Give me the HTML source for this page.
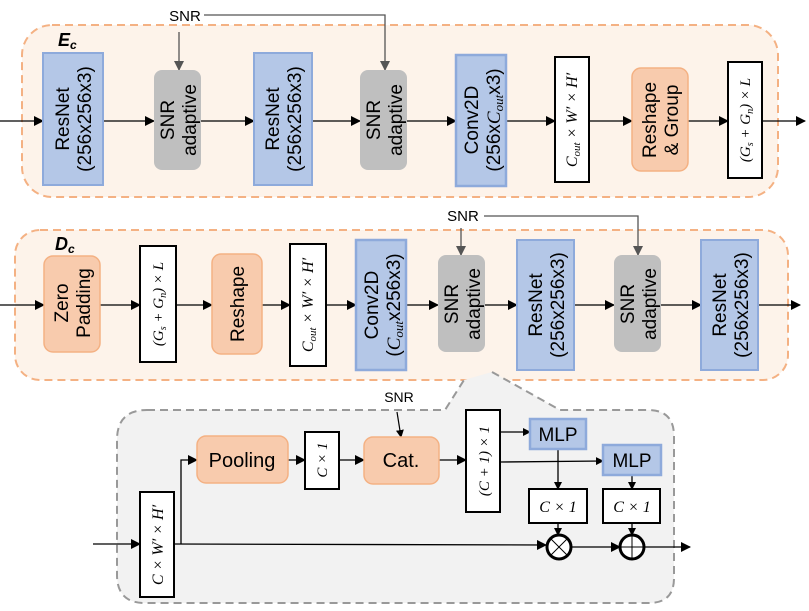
<!DOCTYPE html>
<html><head><meta charset="utf-8"><style>
html,body{margin:0;padding:0;background:#fff;}
svg{display:block;}
text{font-family:"Liberation Sans",sans-serif;}
.m{font-family:"Liberation Serif",serif;font-style:italic;}
</style></head><body>
<svg width="809" height="611" viewBox="0 0 809 611" xmlns="http://www.w3.org/2000/svg">
<defs>
<marker id="a" markerWidth="10" markerHeight="10" refX="9" refY="5" orient="auto" markerUnits="userSpaceOnUse"><path d="M0,0 L10,5 L0,10 z" fill="#000"/></marker>
<marker id="g" markerWidth="10" markerHeight="10" refX="9" refY="5" orient="auto" markerUnits="userSpaceOnUse"><path d="M0,0 L10,5 L0,10 z" fill="#555"/></marker>
<marker id="s" markerWidth="8" markerHeight="8" refX="7" refY="4" orient="auto" markerUnits="userSpaceOnUse"><path d="M0,0 L8,4 L0,8 z" fill="#000"/></marker>
</defs>

<!-- Top panel -->
<rect x="22" y="25" width="756" height="172" rx="30" fill="#fdf3ea" stroke="#f4b183" stroke-width="2" stroke-dasharray="8,5"/>
<text x="58" y="46" font-family="Liberation Serif" font-weight="bold" font-style="italic" font-size="18">E<tspan font-size="12" dy="3">c</tspan></text>

<g stroke="#000" stroke-width="1.3" marker-end="url(#a)">
<line x1="0" y1="121" x2="43" y2="121"/>
<line x1="103" y1="121" x2="154" y2="121"/>
<line x1="201" y1="121" x2="254" y2="121"/>
<line x1="312" y1="121" x2="360" y2="121"/>
<line x1="407" y1="121" x2="456" y2="121"/>
<line x1="506" y1="121" x2="555" y2="121"/>
<line x1="589" y1="121" x2="632" y2="121"/>
<line x1="688" y1="121" x2="728" y2="121"/>
<line x1="762" y1="121" x2="805" y2="121"/>
</g>
<text x="185" y="21" font-size="15" text-anchor="middle">SNR</text>
<line x1="179" y1="32" x2="179" y2="70" stroke="#555" stroke-width="1.3" marker-end="url(#g)"/>
<polyline points="204,15 385,15 385,70" fill="none" stroke="#555" stroke-width="1.3" marker-end="url(#g)"/>

<rect x="43" y="53" width="60" height="132" fill="#b4c7e7" stroke="#8eaadb" stroke-width="2"/>
<text transform="translate(73,119) rotate(-90)" font-size="19" text-anchor="middle"><tspan x="0" dy="-4">ResNet</tspan><tspan x="0" dy="22">(256x256x3)</tspan></text>
<rect x="154" y="70" width="47" height="100" rx="8" fill="#bfbfbf"/>
<text transform="translate(178,120) rotate(-90)" font-size="19" text-anchor="middle"><tspan x="0" dy="-4">SNR</tspan><tspan x="0" dy="22">adaptive</tspan></text>
<rect x="254" y="53" width="58" height="132" fill="#b4c7e7" stroke="#8eaadb" stroke-width="2"/>
<text transform="translate(283,119) rotate(-90)" font-size="19" text-anchor="middle"><tspan x="0" dy="-4">ResNet</tspan><tspan x="0" dy="22">(256x256x3)</tspan></text>
<rect x="360" y="70" width="47" height="100" rx="8" fill="#bfbfbf"/>
<text transform="translate(384,120) rotate(-90)" font-size="19" text-anchor="middle"><tspan x="0" dy="-4">SNR</tspan><tspan x="0" dy="22">adaptive</tspan></text>
<rect x="456" y="55" width="50" height="131" fill="#b4c7e7" stroke="#8eaadb" stroke-width="2.5"/>
<text transform="translate(482,120) rotate(-90)" font-size="19" text-anchor="middle"><tspan x="0" dy="-4">Conv2D</tspan><tspan x="0" dy="22">(256x<tspan class="m">C</tspan><tspan class="m" font-size="13" dy="3">out</tspan><tspan dy="-3">x3)</tspan></tspan></text>
<rect x="555" y="57" width="34" height="125" fill="#fff" stroke="#000" stroke-width="2"/>
<text transform="translate(577,120) rotate(-90)" font-size="16" text-anchor="middle" class="m">C<tspan font-size="11" dy="3">out</tspan><tspan dy="-3"> × W′ × H′</tspan></text>
<rect x="632" y="68" width="56" height="103" rx="9" fill="#f8cbad" stroke="#f4b183" stroke-width="1.5"/>
<text transform="translate(660,120) rotate(-90)" font-size="19" text-anchor="middle"><tspan x="0" dy="-4">Reshape</tspan><tspan x="0" dy="22">&amp; Group</tspan></text>
<rect x="728" y="62" width="34" height="116" fill="#fff" stroke="#000" stroke-width="2"/>
<text transform="translate(750,120) rotate(-90)" font-size="15" text-anchor="middle" class="m">(G<tspan font-size="10" dy="3">s</tspan><tspan dy="-3"> + G</tspan><tspan font-size="10" dy="3">n</tspan><tspan dy="-3">) × L</tspan></text>

<!-- Middle panel -->
<rect x="15" y="230" width="773" height="150" rx="25" fill="#fdf3ea" stroke="#f4b183" stroke-width="2" stroke-dasharray="8,5"/>
<text x="55" y="250" font-family="Liberation Serif" font-weight="bold" font-style="italic" font-size="18">D<tspan font-size="12" dy="3">c</tspan></text>
<g stroke="#000" stroke-width="1.3" marker-end="url(#a)">
<line x1="0" y1="305" x2="44" y2="305"/>
<line x1="100" y1="305" x2="140" y2="305"/>
<line x1="176" y1="305" x2="212" y2="305"/>
<line x1="262" y1="305" x2="290" y2="305"/>
<line x1="326" y1="305" x2="356" y2="305"/>
<line x1="406" y1="305" x2="438" y2="305"/>
<line x1="485" y1="305" x2="517" y2="305"/>
<line x1="574" y1="305" x2="614" y2="305"/>
<line x1="661" y1="305" x2="701" y2="305"/>
<line x1="758" y1="305" x2="800" y2="305"/>
</g>
<text x="463" y="221" font-size="15" text-anchor="middle">SNR</text>
<line x1="461" y1="228" x2="461" y2="255" stroke="#555" stroke-width="1.3" marker-end="url(#g)"/>
<polyline points="484,216 638,216 638,255" fill="none" stroke="#555" stroke-width="1.3" marker-end="url(#g)"/>

<rect x="44" y="256" width="56" height="96" rx="9" fill="#f8cbad" stroke="#f4b183" stroke-width="1.5"/>
<text transform="translate(72,303) rotate(-90)" font-size="19" text-anchor="middle"><tspan x="0" dy="-4">Zero</tspan><tspan x="0" dy="22">Padding</tspan></text>
<rect x="140" y="246" width="36" height="116" fill="#fff" stroke="#000" stroke-width="2"/>
<text transform="translate(163,304) rotate(-90)" font-size="15" text-anchor="middle" class="m">(G<tspan font-size="10" dy="3">s</tspan><tspan dy="-3"> + G</tspan><tspan font-size="10" dy="3">n</tspan><tspan dy="-3">) × L</tspan></text>
<rect x="212" y="254" width="50" height="100" rx="9" fill="#f8cbad" stroke="#f4b183" stroke-width="1.5"/>
<text transform="translate(244,304) rotate(-90)" font-size="19" text-anchor="middle">Reshape</text>
<rect x="290" y="244" width="36" height="122" fill="#fff" stroke="#000" stroke-width="2"/>
<text transform="translate(313,305) rotate(-90)" font-size="16" text-anchor="middle" class="m">C<tspan font-size="11" dy="3">out</tspan><tspan dy="-3"> × W′ × H′</tspan></text>
<rect x="356" y="240" width="50" height="130" fill="#b4c7e7" stroke="#8eaadb" stroke-width="2.5"/>
<text transform="translate(382,305) rotate(-90)" font-size="19" text-anchor="middle"><tspan x="0" dy="-4">Conv2D</tspan><tspan x="0" dy="22">(<tspan class="m">C</tspan><tspan class="m" font-size="13" dy="3">out</tspan><tspan dy="-3">x256x3)</tspan></tspan></text>
<rect x="438" y="255" width="47" height="97" rx="8" fill="#bfbfbf"/>
<text transform="translate(462,304) rotate(-90)" font-size="19" text-anchor="middle"><tspan x="0" dy="-4">SNR</tspan><tspan x="0" dy="22">adaptive</tspan></text>
<rect x="517" y="240" width="57" height="130" fill="#b4c7e7" stroke="#8eaadb" stroke-width="2"/>
<text transform="translate(546,305) rotate(-90)" font-size="19" text-anchor="middle"><tspan x="0" dy="-4">ResNet</tspan><tspan x="0" dy="22">(256x256x3)</tspan></text>
<rect x="614" y="255" width="47" height="97" rx="8" fill="#bfbfbf"/>
<text transform="translate(638,304) rotate(-90)" font-size="19" text-anchor="middle"><tspan x="0" dy="-4">SNR</tspan><tspan x="0" dy="22">adaptive</tspan></text>
<rect x="701" y="240" width="57" height="130" fill="#b4c7e7" stroke="#8eaadb" stroke-width="2"/>
<text transform="translate(730,305) rotate(-90)" font-size="19" text-anchor="middle"><tspan x="0" dy="-4">ResNet</tspan><tspan x="0" dy="22">(256x256x3)</tspan></text>

<!-- Bottom panel -->
<path d="M147,410 L445,410 L464,380 L492,372 L560,410 L648,410 Q674,410 674,436 L674,578 Q674,603 649,603 L145,603 Q117,603 117,575 L117,440 Q117,410 147,410 Z" fill="#f2f2f2" stroke="none"/>
<path d="M147,410 L445,410 L464,380 M492,372 L560,410 L648,410 Q674,410 674,436 L674,578 Q674,603 649,603 L145,603 Q117,603 117,575 L117,440 Q117,410 147,410" fill="none" stroke="#999" stroke-width="2" stroke-dasharray="8,5"/>

<text x="399" y="402" font-size="14" text-anchor="middle">SNR</text>
<line x1="397" y1="412" x2="401" y2="437" stroke="#000" stroke-width="1.2" marker-end="url(#s)"/>

<g stroke="#000" stroke-width="1.3" fill="none">
<line x1="93" y1="544" x2="140" y2="544" marker-end="url(#a)"/>
<line x1="174" y1="544" x2="546" y2="545" marker-end="url(#a)"/>
<polyline points="181,544 181,460 197,460" marker-end="url(#a)"/>
<line x1="288" y1="460" x2="305" y2="460" marker-end="url(#a)"/>
<line x1="339" y1="460" x2="364" y2="460" marker-end="url(#a)"/>
<line x1="439" y1="460" x2="466" y2="460" marker-end="url(#a)"/>
<line x1="500" y1="432" x2="530" y2="432" marker-end="url(#s)"/>
<line x1="500" y1="462" x2="603" y2="461" marker-end="url(#s)"/>
<line x1="558" y1="449" x2="558" y2="489" marker-end="url(#s)"/>
<line x1="632" y1="475" x2="632" y2="489" marker-end="url(#s)"/>
<line x1="558" y1="523" x2="558" y2="535" marker-end="url(#s)"/>
<line x1="632" y1="523" x2="632" y2="535" marker-end="url(#s)"/>
<line x1="571" y1="547" x2="620" y2="547" marker-end="url(#a)"/>
<line x1="644" y1="547" x2="690" y2="547" marker-end="url(#a)"/>
</g>

<rect x="140" y="492" width="34" height="105" fill="#fff" stroke="#000" stroke-width="2"/>
<text transform="translate(163,545) rotate(-90)" font-size="16" text-anchor="middle" class="m">C × W′ × H′</text>
<rect x="197" y="436" width="91" height="47" rx="9" fill="#f8cbad" stroke="#f4b183" stroke-width="1.5"/>
<text x="242" y="467" font-size="20" text-anchor="middle">Pooling</text>
<rect x="305" y="432" width="34" height="57" fill="#fff" stroke="#000" stroke-width="2"/>
<text transform="translate(327,460) rotate(-90)" font-size="15" text-anchor="middle" class="m">C × 1</text>
<rect x="364" y="437" width="75" height="47" rx="9" fill="#f8cbad" stroke="#f4b183" stroke-width="1.5"/>
<text x="401" y="467" font-size="20" text-anchor="middle">Cat.</text>
<rect x="466" y="410" width="34" height="102" fill="#fff" stroke="#000" stroke-width="2"/>
<text transform="translate(489,461) rotate(-90)" font-size="15" text-anchor="middle" class="m">(C + 1) × 1</text>
<rect x="530" y="419" width="56" height="30" fill="#b4c7e7" stroke="#8eaadb" stroke-width="2.5"/>
<text x="558" y="441" font-size="19" text-anchor="middle">MLP</text>
<rect x="603" y="445" width="58" height="30" fill="#b4c7e7" stroke="#8eaadb" stroke-width="2.5"/>
<text x="632" y="467" font-size="19" text-anchor="middle">MLP</text>
<rect x="529" y="489" width="58" height="34" fill="#fff" stroke="#000" stroke-width="2"/>
<text x="558" y="512" font-size="16" text-anchor="middle" class="m">C × 1</text>
<rect x="603" y="489" width="57" height="34" fill="#fff" stroke="#000" stroke-width="2"/>
<text x="632" y="512" font-size="16" text-anchor="middle" class="m">C × 1</text>

<circle cx="559" cy="547" r="12" fill="#fff" stroke="#000" stroke-width="3"/>
<line x1="551" y1="539" x2="567" y2="555" stroke="#000" stroke-width="1"/>
<line x1="567" y1="539" x2="551" y2="555" stroke="#000" stroke-width="1"/>
<circle cx="632" cy="547" r="12" fill="#fff" stroke="#000" stroke-width="3"/>
<line x1="620" y1="547" x2="644" y2="547" stroke="#000" stroke-width="1"/>
<line x1="632" y1="535" x2="632" y2="559" stroke="#000" stroke-width="1"/>
</svg>
</body></html>
